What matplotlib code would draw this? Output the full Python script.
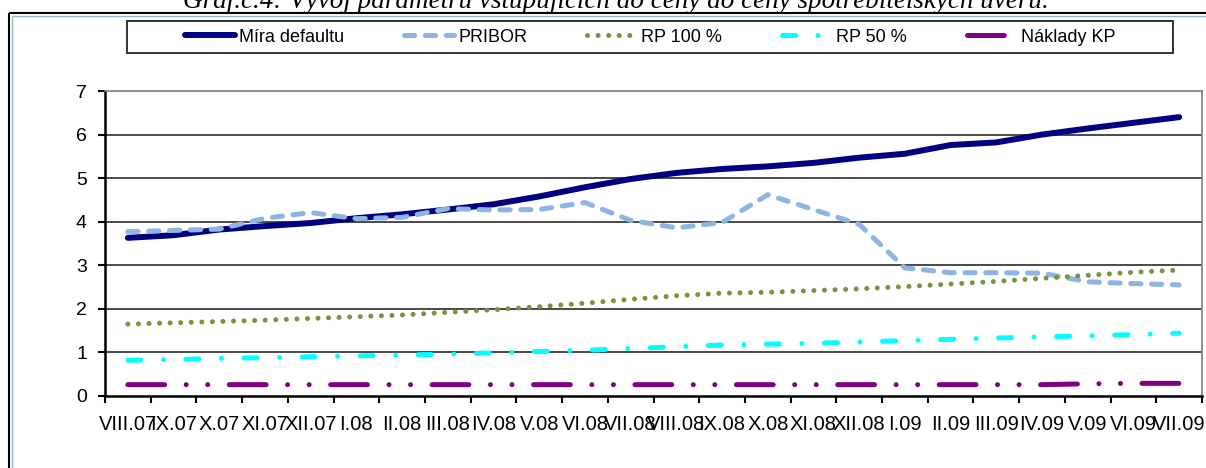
import numpy as np
import matplotlib
matplotlib.use("Agg")
import matplotlib.pyplot as plt
from matplotlib.patches import Rectangle
from matplotlib.lines import Line2D

# monthly categories
months = ["VIII.07", "IX.07", "X.07", "XI.07", "XII.07", "I.08", "II.08", "III.08",
          "IV.08", "V.08", "VI.08", "VII.08", "VIII.08", "IX.08", "X.08", "XI.08",
          "XII.08", "I.09", "II.09", "III.09", "IV.09", "V.09", "VI.09", "VII.09"]

mira_defaultu = [3.63, 3.69, 3.82, 3.90, 3.97, 4.08, 4.17, 4.28, 4.40, 4.58, 4.79, 4.98,
                 5.12, 5.21, 5.27, 5.35, 5.47, 5.56, 5.76, 5.82, 6.00, 6.14, 6.27, 6.40]
pribor = [3.77, 3.80, 3.83, 4.08, 4.21, 4.07, 4.10, 4.30, 4.27, 4.28, 4.44, 4.03,
          3.86, 3.98, 4.62, 4.28, 3.94, 2.94, 2.83, 2.83, 2.82, 2.62, 2.58, 2.55]
rp_100 = [1.65, 1.68, 1.71, 1.74, 1.78, 1.82, 1.86, 1.92, 1.98, 2.05, 2.13, 2.22,
          2.30, 2.36, 2.38, 2.42, 2.46, 2.51, 2.57, 2.63, 2.70, 2.77, 2.84, 2.89]
rp_50 = [0.82, 0.84, 0.86, 0.88, 0.90, 0.92, 0.94, 0.96, 0.99, 1.02, 1.05, 1.09,
         1.13, 1.17, 1.19, 1.21, 1.24, 1.27, 1.30, 1.33, 1.36, 1.38, 1.41, 1.44]
naklady_kp = [0.26, 0.26, 0.26, 0.26, 0.26, 0.26, 0.26, 0.26, 0.26, 0.26, 0.26, 0.26,
              0.26, 0.26, 0.26, 0.26, 0.26, 0.26, 0.26, 0.26, 0.26, 0.28, 0.29, 0.29]

title = "Graf.č.4: Vývoj parametrů vstupujících do ceny do ceny spotřebitelských úvěrů."

plt.rcParams["lines.scale_dashes"] = False
plt.rcParams["font.family"] = ["Liberation Sans", "DejaVu Sans"]

W, H = 1206, 468
fig = plt.figure(figsize=(W / 100, H / 100), dpi=100)
ax = fig.add_axes([105 / W, 1 - 396 / H, (1202 - 105) / W, (396 - 91) / H])

x = np.arange(len(months))

# series
ax.plot(x, mira_defaultu, color="#000080", lw=4.3, solid_capstyle="round",
        solid_joinstyle="round", label="Míra defaultu")
ax.plot(x, pribor, color="#8db4e2", lw=3.6, ls=(0, (7.4, 7.6)), dash_capstyle="round",
        label="PRIBOR")
ax.plot(x, rp_100, color="#77933c", lw=3.6, ls=(0, (0.01, 7.6)), dash_capstyle="round",
        label="RP 100 %")
ax.plot(x, rp_50, color="#00ffff", lw=3.6, ls=(0, (9.4, 16.2, 0.01, 16.2)),
        dash_capstyle="round", label="RP 50 %")
ax.plot(x, naklady_kp, color="#800080", lw=3.6,
        ls=(0, (26.5, 15.5, 0.01, 15.5, 0.01, 15.5)), dash_capstyle="round",
        label="Náklady KP")

# axes
ax.set_xlim(-0.5, len(months) - 0.5)
ax.set_ylim(0, 7)
ax.set_yticks(range(0, 8))
for v in range(1, 7):
    ax.axhline(v, color="#2a2a2a", lw=1.2, zorder=0)

ax.set_xticks(x)
ax.set_xticklabels(months, fontsize=14.5)
ax.set_xticks(np.arange(-0.5, len(months)), minor=True)
ax.tick_params(axis="x", which="major", length=0, pad=14)
ax.tick_params(axis="x", which="minor", length=5, width=1.5, direction="out")
ax.tick_params(axis="y", length=5, width=1.5, direction="out", pad=8, labelsize=14)

for s in ["left", "bottom"]:
    ax.spines[s].set_linewidth(1.8)
    ax.spines[s].set_color("black")
for s in ["top", "right"]:
    ax.spines[s].set_linewidth(1.2)
    ax.spines[s].set_color("#808080")

# legend
fs = 13
px = fs * 100 / 72
leg = ax.legend(loc="center", bbox_to_anchor=(650 / W, 1 - 37 / H),
                bbox_transform=fig.transFigure, ncol=5, frameon=False, fontsize=fs,
                handlelength=50 / px, handletextpad=4 / px, columnspacing=60 / px)
fig.add_artist(Rectangle((127 / W, 1 - 53 / H), (1173 - 127) / W, 32.5 / H,
                         transform=fig.transFigure, fill=False, ec="#333333", lw=1.4))

# outer chart frame: only the top and left edges fall inside the picture
for off, col, lw in [(9, "black", 1.5), (11.5, "#95b3d7", 1.0)]:
    top = 1 - (off + 4) / H
    fig.add_artist(Line2D([off / W, off / W], [0, top], transform=fig.transFigure,
                          color=col, lw=lw, solid_capstyle="butt"))
    fig.add_artist(Line2D([off / W, 1], [top, top], transform=fig.transFigure,
                          color=col, lw=lw, solid_capstyle="butt"))

fig.text(616 / W, 1 - 7.5 / H, title, ha="center", va="baseline", fontsize=19.5,
         family="Liberation Serif", style="italic")

fig.savefig("out.png", dpi=100)
